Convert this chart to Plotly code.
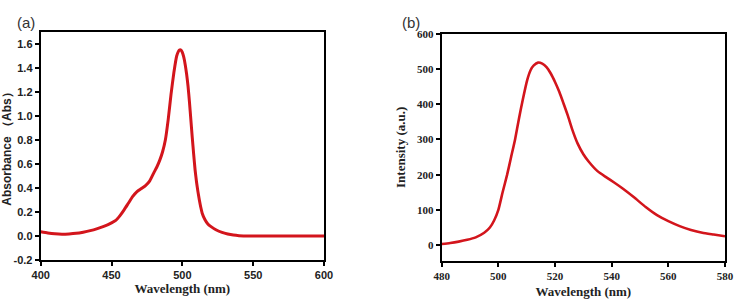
import plotly.graph_objects as go

# Panel (a): absorbance spectrum
abs_wavelength = [400, 405, 410, 415, 420, 425, 430, 435, 440, 445, 450, 453, 456, 459, 462,
                  465, 468, 471, 474, 477, 480, 482, 484, 486, 488, 490, 492, 494, 496, 498,
                  499, 500, 501, 502, 503, 504, 505, 506, 507, 508, 509, 510, 511, 512, 513,
                  514, 516, 518, 520, 524, 528, 532, 536, 540, 545, 550, 560, 580, 600]
absorbance = [0.035, 0.025, 0.018, 0.015, 0.017, 0.022, 0.032, 0.045, 0.062, 0.082, 0.11, 0.13,
              0.17, 0.22, 0.275, 0.33, 0.37, 0.395, 0.42, 0.46, 0.53, 0.575, 0.63, 0.70, 0.80,
              0.97, 1.18, 1.36, 1.50, 1.55, 1.55, 1.53, 1.49, 1.43, 1.35, 1.25, 1.12, 0.97,
              0.82, 0.68, 0.55, 0.45, 0.37, 0.30, 0.24, 0.19, 0.135, 0.10, 0.08, 0.05, 0.03,
              0.017, 0.008, 0.003, 0.001, 0.0, 0.0, 0.0, 0.0]

# Panel (b): fluorescence emission spectrum
em_wavelength = [480, 483, 486, 489, 492, 495, 497, 498.5, 500, 501.5, 503.1, 504.5, 505.9,
                 507.3, 508.6, 510.2, 511.4, 512.5, 514, 515.5, 517, 518.5, 520, 521.5, 523,
                 524.5, 526, 528, 530, 532, 535, 538, 541, 544, 548, 552, 556, 560, 564, 568,
                 572, 576, 580]
intensity = [3, 6, 10, 15, 22, 35, 50, 70, 100, 150, 200, 250, 300, 360, 412, 469, 497, 510,
             518, 515, 505, 487, 463, 435, 402, 368, 330, 288, 258, 236, 210, 193, 177, 160,
             135, 108, 85, 68, 54, 43, 35, 30, 25]

a_xticks = [400, 450, 500, 550, 600]
a_yticks = [-0.2, 0.0, 0.2, 0.4, 0.6, 0.8, 1.0, 1.2, 1.4, 1.6]
a_yticklabels = ["-0.2", "0.0", "0.2", "0.4", "0.6", "0.8", "1.0", "1.2", "1.4", "1.6"]
b_xticks = [480, 500, 520, 540, 560, 580]
b_yticks = [0, 100, 200, 300, 400, 500, 600]

RED = "#d3151c"
SANS = "Liberation Sans, Arial, sans-serif"
SERIF = "Liberation Serif, Times New Roman, serif"
W, H = 734, 302

fig = go.Figure()
fig.add_trace(go.Scatter(x=abs_wavelength, y=absorbance, mode="lines",
                         line=dict(color=RED, width=3, shape="spline", smoothing=0.5),
                         xaxis="x", yaxis="y", showlegend=False))
fig.add_trace(go.Scatter(x=em_wavelength, y=intensity, mode="lines",
                         line=dict(color=RED, width=2.6, shape="spline", smoothing=0.5),
                         xaxis="x2", yaxis="y2", showlegend=False))

axis_common = dict(showline=True, linecolor="black", linewidth=2, mirror=True,
                   ticks="outside", ticklen=4, tickwidth=2, tickcolor="black",
                   showgrid=False, zeroline=False, automargin=False)

fig.update_layout(
    template="none",
    width=W, height=H,
    margin=dict(l=0, r=0, t=0, b=0, pad=0),
    paper_bgcolor="white", plot_bgcolor="white",
    xaxis=dict(domain=[40.7 / W, 324 / W], range=[400, 600], tickvals=a_xticks,
               tickfont=dict(family=SANS, size=11, color="#222", weight="bold"),
               title=dict(text="Wavelength (nm)", standoff=2,
                          font=dict(family=SERIF, size=13, color="#222", weight="bold")),
               anchor="y", **axis_common),
    yaxis=dict(domain=[(H - 260) / H, (H - 32) / H], range=[-0.2, 1.7], tickvals=a_yticks,
               ticktext=a_yticklabels,
               tickfont=dict(family=SANS, size=11, color="#222", weight="bold"),
               title=dict(text="Absorbance （Abs）", standoff=6,
                          font=dict(family=SANS, size=12, color="#222", weight="bold")),
               anchor="x", **axis_common),
    xaxis2=dict(domain=[441.7 / W, 725 / W], range=[480, 580], tickvals=b_xticks,
                tickfont=dict(family=SERIF, size=11, color="#222", weight="bold"),
                title=dict(text="Wavelength (nm)", standoff=6,
                           font=dict(family=SERIF, size=13, color="#222", weight="bold")),
                anchor="y2", **axis_common),
    yaxis2=dict(domain=[(H - 261) / H, (H - 33.7) / H], range=[-45, 600], tickvals=b_yticks,
                tickfont=dict(family=SERIF, size=11, color="#222", weight="bold"),
                title=dict(text="Intensity (a.u.)", standoff=8,
                           font=dict(family=SERIF, size=13, color="#222", weight="bold")),
                anchor="x2", **axis_common),
    annotations=[
        dict(text="(a)", x=15 / W, y=1 - 12 / H, xref="paper", yref="paper",
             showarrow=False, font=dict(family=SANS, size=15, color="#333")),
        dict(text="(b)", x=411 / W, y=1 - 12 / H, xref="paper", yref="paper",
             showarrow=False, font=dict(family=SANS, size=15, color="#333")),
    ],
)

fig.write_html("out.html", config={"displayModeBar": False},
               post_script="document.body.style.margin='0';document.body.style.overflow='hidden';")
